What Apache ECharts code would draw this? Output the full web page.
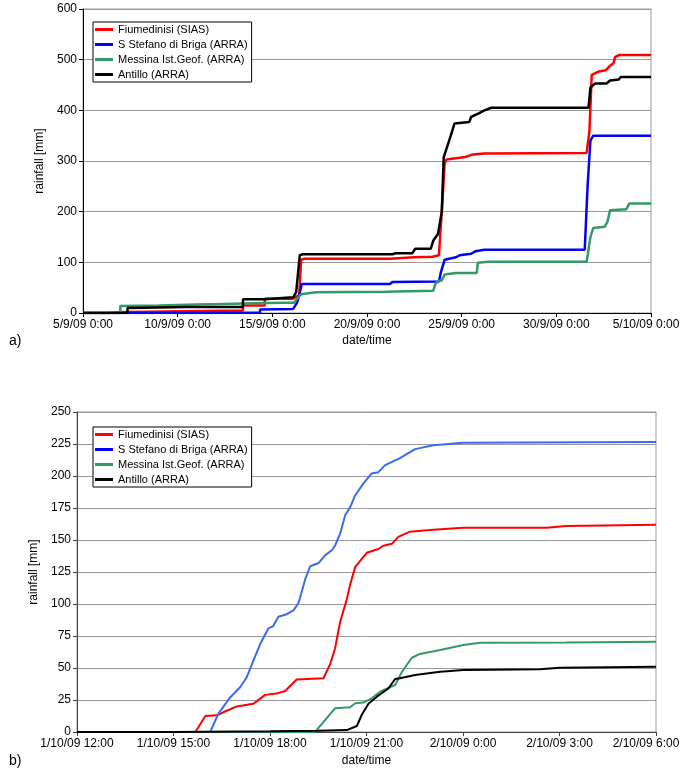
<!DOCTYPE html>
<html>
<head>
<meta charset="utf-8">
<script src="https://cdn.jsdelivr.net/npm/echarts@6/dist/echarts.min.js"></script>
<style>
  html, body { margin: 0; padding: 0; background: #fff; }
  #main { width: 682px; height: 774px; }
</style>
</head>
<body>
<div id="main"></div>
<script>
// rainfall charts a) and b)
var names = ['Fiumedinisi (SIAS)', 'S Stefano di Briga (ARRA)', 'Messina Ist.Geof. (ARRA)', 'Antillo (ARRA)'];

// a) x = days since 5/9/09 0:00
var xTicksA = ['5/9/09 0:00', '10/9/09 0:00', '15/9/09 0:00', '20/9/09 0:00', '25/9/09 0:00', '30/9/09 0:00', '5/10/09 0:00'];
var redA = [[0,0],[1.26,0],[1.26,2],[2.35,2],[2.35,5],[8.45,5],[8.45,15],[9.6,15],[9.6,28],[11.1,28],[11.3,33],[11.42,35],[11.52,105],[11.7,107],[16.2,107],[16.3,109],[17.5,110],[18.45,111],[18.8,114],[18.95,200],[19.1,295],[19.2,303],[19.6,305],[20.2,308],[20.6,313],[21.2,315],[26.6,316],[26.75,360],[26.87,470],[27.2,476],[27.6,479],[27.84,488],[28.02,493],[28.1,505],[28.3,509],[30,509]];
var blueA = [[0,0],[6.6,0],[6.6,1],[9.35,1],[9.35,7],[11.1,8],[11.3,20],[11.45,40],[11.55,57],[16.2,57],[16.35,61],[18.8,62],[18.9,80],[19.1,105],[19.2,108],[19.7,110],[19.9,114],[20.5,117],[20.74,122],[21.2,125],[26.5,125],[26.65,250],[26.8,340],[26.95,350],[30,350]];
var greenA = [[0,0],[1.97,0],[1.97,14],[4,15],[6,17],[7.5,18],[9,19],[10.5,20],[11.15,20],[11.35,30],[11.52,37],[12.3,41],[16,42],[18.5,44],[18.62,58],[18.75,63],[18.95,64],[19.1,76],[19.7,79],[20.8,79],[20.85,99],[21.4,101],[26.6,101],[26.8,150],[26.95,168],[27.55,170],[27.7,180],[27.84,203],[28.7,205],[28.85,216],[30,216]];
var blackA = [[0,0],[2.35,0],[2.35,10],[5.5,12],[8.45,12],[8.45,27],[9.6,27],[9.6,30],[11.1,31],[11.26,41],[11.45,114],[11.6,116],[16.35,116],[16.5,118],[17.4,118],[17.55,127],[18.37,127],[18.5,143],[18.75,156],[18.95,200],[19.05,307],[19.4,347],[19.62,374],[20.4,377],[20.5,387],[20.9,394],[21.2,400],[21.57,405],[26.7,405],[26.8,445],[27.05,453],[27.65,453],[27.84,459],[28.3,461],[28.4,466],[30,466]];

// b) x = hours since 1/10/09 12:00
var xTicksB = ['1/10/09 12:00', '1/10/09 15:00', '1/10/09 18:00', '1/10/09 21:00', '2/10/09 0:00', '2/10/09 3:00', '2/10/09 6:00'];
var redB = [[0,0],[3.68,0],[3.99,12.5],[4.35,13],[4.6,16],[4.97,20],[5.48,22],[5.85,29],[6.2,30],[6.47,32],[6.83,41],[7.66,42],[7.87,53],[8.02,65],[8.18,86],[8.39,104],[8.49,115],[8.65,129],[9.01,140],[9.37,143],[9.52,145.5],[9.79,147],[9.99,152.5],[10.35,156.5],[11.07,158],[12.0,159.5],[14.6,159.5],[15.2,161],[18,162]];
var blueB = [[0,0],[4.14,0],[4.4,14.5],[4.76,27],[5.07,35],[5.28,43],[5.44,53],[5.7,69],[5.95,81],[6.09,82.5],[6.26,90],[6.52,92],[6.73,95],[6.89,101],[7.09,119],[7.25,129.5],[7.51,132],[7.71,138],[7.92,142],[8.02,145.5],[8.18,155],[8.34,169.5],[8.49,175.5],[8.65,185],[8.9,194],[9.16,202],[9.37,203],[9.58,208.5],[10.04,214],[10.51,221],[11.08,224],[12.01,226],[18,226.5]];
var greenB = [[0,0],[7.4,0],[8.02,18.5],[8.49,19.3],[8.65,22.4],[8.9,23],[9.16,26.3],[9.42,31.5],[9.89,36.7],[10.1,47],[10.41,58],[10.66,61],[11.29,64],[12.01,68],[12.53,69.8],[15.2,70],[18,70.6]];
var blackB = [[0,0],[3,0],[6,0.5],[7.5,1],[8.39,1.5],[8.7,4.7],[8.85,13.3],[9.06,22],[9.32,27.6],[9.68,34],[9.89,41.4],[10.04,42],[10.51,44.5],[11.29,47],[12.01,48.4],[14.39,49],[15.01,50.2],[18,51]];

var font = "'Liberation Sans', Arial, sans-serif";
var colorsA = ['#ff0000', '#0000ff', '#339966', '#000000'];
var colorsB = ['#ff0000', '#3a6cf2', '#339966', '#000000'];

var chart = echarts.init(document.getElementById('main'));

// last tick label is pushed left a little, as in the original
function xAxis(grid, max, step, ticks, gap, lineColor, lastPad) {
    return {
        type: 'value', gridIndex: grid, min: 0, max: max, interval: step,
        name: 'date/time', nameLocation: 'middle', nameGap: gap,
        nameTextStyle: { color: '#000', fontSize: 12, fontFamily: font },
        axisLine: { show: true, lineStyle: { color: lineColor, width: 1 } },
        axisTick: { show: true, length: 4, lineStyle: { color: lineColor } },
        axisLabel: {
            color: '#000', fontSize: 12, fontFamily: font, margin: 6,
            showMaxLabel: true, showMinLabel: true,
            formatter: function (v) {
                var i = Math.round(v / step);
                return i === ticks.length - 1 ? '{last|' + ticks[i] + '}' : ticks[i];
            },
            rich: { last: { color: '#000', fontSize: 12, fontFamily: font, padding: [0, lastPad, 0, 0] } }
        },
        splitLine: { show: false }
    };
}

function yAxis(grid, max, step, gap, lineColor) {
    return {
        type: 'value', gridIndex: grid, min: 0, max: max, interval: step,
        name: 'rainfall [mm]', nameLocation: 'middle', nameGap: gap,
        nameTextStyle: { color: '#000', fontSize: 12, fontFamily: font },
        axisLine: { show: true, lineStyle: { color: lineColor, width: 1 } },
        axisTick: { show: true, length: 4, lineStyle: { color: lineColor } },
        axisLabel: { color: '#000', fontSize: 12, fontFamily: font, margin: 6 },
        splitLine: { show: true, lineStyle: { color: '#9a9a9a', width: 1 } }
    };
}

function lines(grid, list, colors, w) {
    return list.map(function (d, i) {
        return {
            name: names[i], type: 'line', xAxisIndex: grid, yAxisIndex: grid,
            data: d, showSymbol: false, symbol: 'none', animation: false,
            itemStyle: { color: colorsA[i] },
            lineStyle: { color: colors[i], width: w }
        };
    });
}

function legend(top) {
    return {
        orient: 'vertical', left: 93, top: top,
        icon: 'rect', itemWidth: 18, itemHeight: 3, itemGap: 2,
        padding: [1, 4, 1, 2],
        borderColor: '#000', borderWidth: 1, backgroundColor: '#fff',
        textStyle: { color: '#000', fontSize: 11, fontFamily: font, lineHeight: 13 },
        data: names.map(function (n, i) { return { name: n, itemStyle: { color: colorsA[i] } }; })
    };
}

chart.setOption({
    animation: false,
    backgroundColor: '#fff',
    grid: [
        { left: 83, top: 9, width: 568, height: 304, show: true, borderColor: '#999', borderWidth: 1, outerBoundsMode: 'none', containLabel: false },
        { left: 77, top: 412, width: 579, height: 320, show: true, borderColor: '#999', borderWidth: 1, outerBoundsMode: 'none', containLabel: false }
    ],
    xAxis: [xAxis(0, 30, 5, xTicksA, 22, '#000', 10), xAxis(1, 18, 3, xTicksB, 23, '#444', 20)],
    yAxis: [yAxis(0, 600, 100, 35, '#000'), yAxis(1, 250, 25, 31, '#444')],
    legend: [legend(22), legend(427)],
    series: lines(0, [redA, blueA, greenA, blackA], colorsA, 2.5)
        .concat(lines(1, [redB, blueB, greenB, blackB], colorsB, 2)),
    graphic: [
        { type: 'text', left: 9, top: 334, style: { text: 'a)', fontSize: 14, fontFamily: font, fill: '#000' } },
        { type: 'text', left: 9, top: 754, style: { text: 'b)', fontSize: 14, fontFamily: font, fill: '#000' } }
    ]
});
</script>
</body>
</html>
